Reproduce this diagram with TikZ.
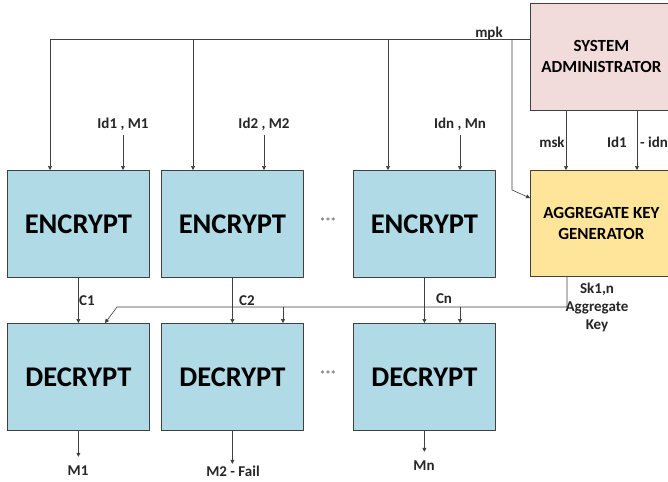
\documentclass[tikz,border=0pt]{standalone}
\usepackage{fontspec}
\setmainfont{Carlito}
\usetikzlibrary{arrows.meta}
\definecolor{boxblue}{RGB}{176,218,230}
\definecolor{boxpink}{RGB}{242,220,219}
\definecolor{boxyellow}{RGB}{255,229,153}
\definecolor{edge}{RGB}{64,64,64}
\begin{document}
\begin{tikzpicture}[x=1pt,y=-1pt,
 blk/.style={draw=edge, line width=0.8pt, fill=boxblue, minimum width=142pt, minimum height=107pt, anchor=north west, inner sep=0pt, font=\bfseries\fontsize{28.5}{30}\selectfont},
 side/.style={draw=edge, line width=0.8pt, minimum width=142pt, minimum height=107pt, anchor=north west, inner sep=0pt, align=center, font=\bfseries\fontsize{17}{21}\selectfont},
 lbl/.style={font=\bfseries\fontsize{15}{18}\selectfont, inner sep=0pt, text=black!85},
 arr/.style={-{Triangle[length=4pt,width=4pt]}, line width=0.6pt, draw=edge},
 ln/.style={line width=0.6pt, draw=edge}]
\useasboundingbox (0,0) rectangle (668,481);
\fill[white] (0,0) rectangle (668,481);
% blocks
\node[blk] (e1) at (7,170) {ENCRYPT};
\node[blk] (e2) at (161,170) {ENCRYPT};
\node[blk] (e3) at (353,170) {ENCRYPT};
\node[blk] (d1) at (7,323) {DECRYPT};
\node[blk] (d2) at (161,323) {DECRYPT};
\node[blk] (d3) at (353,323) {DECRYPT};
\node[side, fill=boxpink] (sa) at (530,3) {SYSTEM\\ADMINISTRATOR};
\node[side, fill=boxyellow, minimum height=106pt] (agg) at (530,170) {AGGREGATE KEY\\GENERATOR};
% dots
\node[lbl, text=black!55, font=\bfseries\fontsize{11}{12}\selectfont] (dots1) at (328,222) {***};
\node[lbl, text=black!55, font=\bfseries\fontsize{11}{12}\selectfont] (dots2) at (328,375) {***};
% mpk distribution
\coordinate (m0) at (530,39);
\coordinate (m1) at (50,39);
\coordinate (m2) at (193,39);
\coordinate (m3) at (388,39);
\coordinate (m4) at (512,39);
\coordinate (m5) at (512,190);
\node[lbl] (mpk) at (489,33) {mpk};
\draw[arr] (m0) -- (m1) -- (m1 |- e1.north);
\draw[arr] (m2) -- (m2 |- e2.north);
\draw[arr] (m3) -- (m3 |- e3.north);
\draw[arr] (m4) -- (m5) -- ([yshift=-28pt]agg.north west);
% inputs
\node[lbl] (in1) at (123,124) {Id1 , M1};
\node[lbl] (in2) at (264,124) {Id2 , M2};
\node[lbl] (in3) at (460,124) {Idn , Mn};
\draw[arr] ([yshift=-5pt]in1.south) -- (in1.south |- e1.north);
\draw[arr] ([yshift=-5pt]in2.south) -- (in2.south |- e2.north);
\draw[arr] ([yshift=-5pt]in3.south) -- (in3.south |- e3.north);
% admin to generator
\coordinate (s1) at (566,110);
\coordinate (s2) at (637,110);
\draw[arr] (s1) -- (s1 |- agg.north);
\draw[arr] (s2) -- (s2 |- agg.north);
\node[lbl] (msk) at (552,142) {msk};
\node[lbl] (idA) at (617,142) {Id1};
\node[lbl, anchor=west] (idB) at (640,142) {- idn};
% ciphertexts
\draw[arr] (e1.south) -- (d1.north);
\draw[arr] (e2.south) -- (d2.north);
\draw[arr] (e3.south) -- (d3.north);
\node[lbl] (c1) at (87,301) {C1};
\node[lbl] (c2) at (247,301) {C2};
\node[lbl] (cn) at (444,299) {Cn};
% aggregate key bus
\coordinate (k0) at (567,276);
\coordinate (k1) at (567,307);
\coordinate (k2) at (117,307);
\coordinate (b2) at (283,307);
\coordinate (b3) at (460,307);
\draw[arr] (k0) -- (k1) -- (k2) -- ([xshift=98pt]d1.north west);
\draw[arr] (b2) -- (b2 |- d2.north);
\draw[arr] (b3) -- (b3 |- d3.north);
\node[lbl, align=center] (sk) at (597,307) {Sk1,n\\Aggregate\\Key};
% outputs
\draw[arr] (d1.south) -- ++(0,26);
\draw[arr] (d2.south) -- ++(0,33);
\draw[arr] (d3.south) -- ++(0,21);
\node[lbl] (o1) at (78,471) {M1};
\node[lbl] (o2) at (233,471) {M2 - Fail};
\node[lbl] (o3) at (424,466) {Mn};
\end{tikzpicture}
\end{document}
